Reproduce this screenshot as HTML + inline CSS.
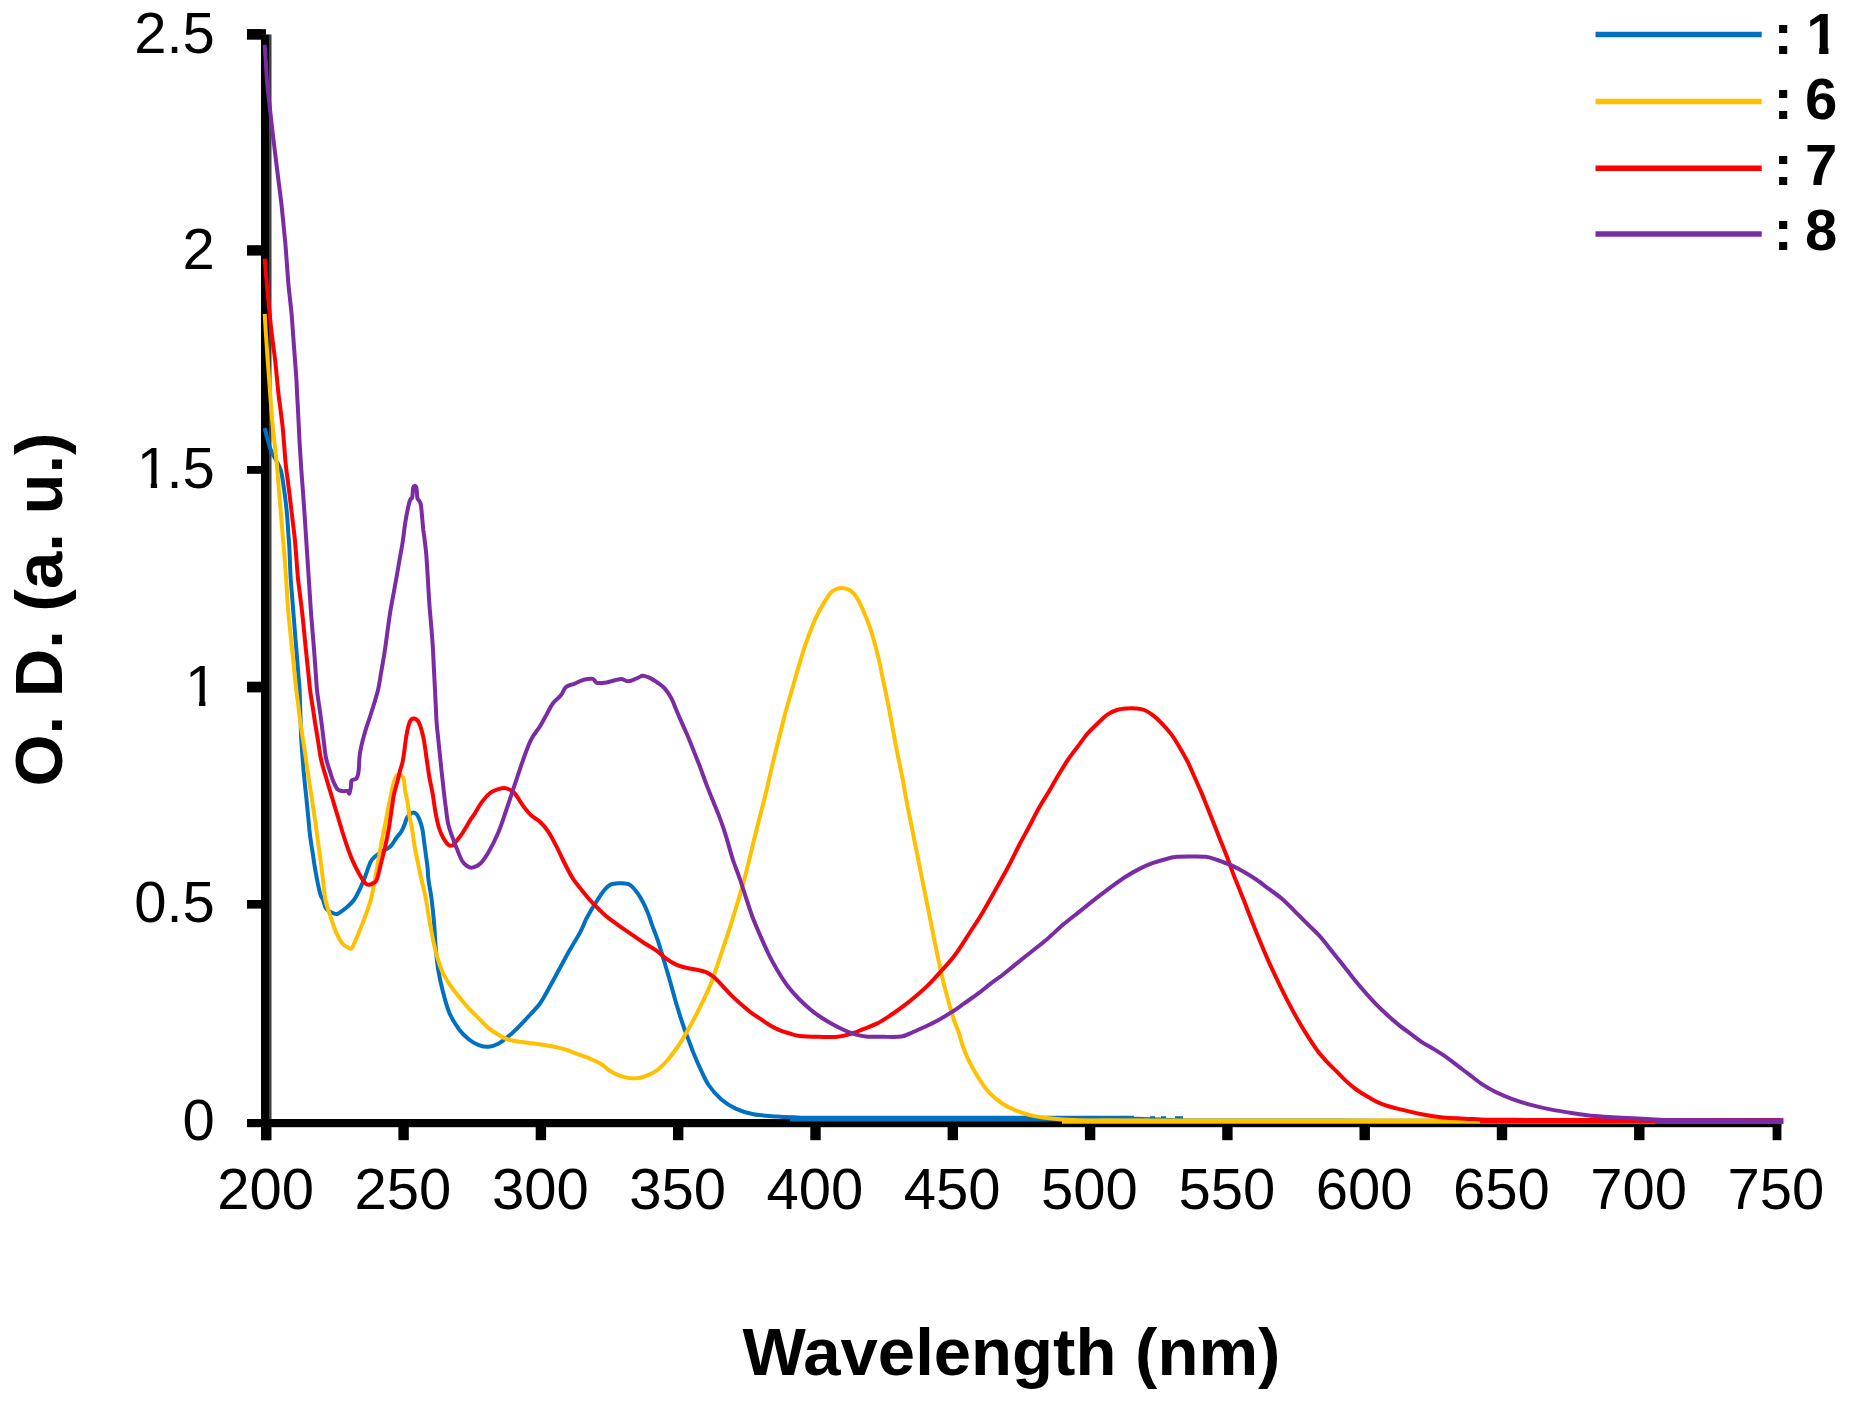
<!DOCTYPE html>
<html lang="en"><head><meta charset="utf-8"><title>UV-Vis absorption spectra</title>
<style>
html,body{margin:0;padding:0;background:#fff;}
body{width:1850px;height:1405px;overflow:hidden;}
svg{display:block;filter:blur(0.6px);}
text{font-family:"Liberation Sans",sans-serif;fill:#000;}
.tick{font-size:58px;}
.leg{font-size:58px;font-weight:bold;}
.ttl{font-size:66px;font-weight:bold;}
.crv{fill:none;stroke-linejoin:round;stroke-linecap:butt;}
</style></head><body>
<svg width="1850" height="1405" viewBox="0 0 1850 1405">
<rect x="0" y="0" width="1850" height="1405" fill="#fff"/>
<g fill="#000">
<rect x="261" y="34.5" width="8.6" height="1105.7"/>
<rect x="269.3" y="34.5" width="2.2" height="1085" fill="#3c3c3c"/>
<rect x="247" y="1119" width="1534.3" height="8.2"/>
<rect x="247" y="29.2" width="19" height="5.6"/>
<rect x="247" y="29.2" width="15" height="10.5"/>
<rect x="247" y="245.2" width="15" height="10.4"/>
<rect x="247" y="466.0" width="15" height="7.8"/>
<rect x="247" y="681.7" width="15" height="10.7"/>
<rect x="247" y="900.0" width="15" height="8.6"/>
<rect x="261.1" y="1123" width="10.4" height="17.2"/>
<rect x="398.4" y="1123" width="10.4" height="17.2"/>
<rect x="535.7" y="1123" width="10.4" height="17.2"/>
<rect x="673.0" y="1123" width="10.4" height="17.2"/>
<rect x="810.3" y="1123" width="10.4" height="17.2"/>
<rect x="947.6" y="1123" width="10.4" height="17.2"/>
<rect x="1084.9" y="1123" width="10.4" height="17.2"/>
<rect x="1222.2" y="1123" width="10.4" height="17.2"/>
<rect x="1359.5" y="1123" width="10.4" height="17.2"/>
<rect x="1496.8" y="1123" width="10.4" height="17.2"/>
<rect x="1634.1" y="1123" width="10.4" height="17.2"/>
<rect x="1772.6" y="1123" width="8.8" height="17.2"/>
</g>
<g class="crv" stroke-width="4.0">
<path d="M264.7 428.0C265.6 431.5 268.5 443.7 270.4 449.0C272.3 454.3 274.2 456.3 276.0 460.0C277.8 463.7 279.6 465.9 281.0 471.0C282.4 476.1 283.2 483.5 284.2 490.3C285.2 497.1 286.1 505.3 286.8 512.0C287.5 518.7 287.7 524.2 288.1 530.4C288.5 536.5 289.0 540.7 289.4 548.7C289.8 556.7 290.2 570.2 290.7 578.5C291.2 586.8 291.8 592.0 292.3 598.8C292.8 605.5 293.4 612.2 293.9 619.0C294.4 625.8 295.0 632.5 295.5 639.3C296.1 646.1 296.7 653.7 297.2 659.6C297.7 665.5 298.0 669.7 298.4 674.8C298.8 679.9 299.3 683.4 299.6 690.0C299.9 696.6 300.1 706.2 300.4 714.3C300.7 722.4 300.9 731.9 301.2 738.6C301.5 745.4 302.0 749.4 302.4 754.8C302.8 760.2 303.1 765.6 303.6 771.0C304.1 776.4 304.7 781.8 305.2 787.2C305.8 792.7 306.4 798.1 306.9 803.5C307.4 808.9 308.0 814.3 308.5 819.7C309.0 825.1 309.4 830.5 310.1 835.9C310.8 841.3 311.7 846.7 312.6 852.1C313.4 857.6 313.8 861.6 315.0 868.4C316.2 875.2 318.5 887.4 319.9 892.7C321.2 898.0 322.0 897.3 323.1 900.0C324.2 902.7 324.7 906.7 326.3 908.9C327.9 911.1 330.9 912.2 332.8 913.0C334.7 913.8 335.5 914.6 337.7 913.8C339.9 913.0 343.1 910.4 345.8 908.1C348.5 905.8 351.5 903.4 353.9 900.0C356.3 896.6 358.5 891.8 360.4 887.8C362.3 883.8 363.7 880.2 365.4 875.9C367.1 871.6 368.8 865.4 370.5 862.1C372.2 858.8 373.6 857.9 375.7 856.0C377.8 854.1 380.6 852.6 383.0 851.0C385.4 849.4 388.1 848.7 390.4 846.5C392.6 844.3 394.6 840.4 396.5 837.8C398.4 835.2 400.3 833.3 401.7 830.9C403.1 828.5 404.2 825.4 405.1 823.1C406.0 820.8 406.1 818.8 407.3 817.1C408.5 815.4 410.6 813.3 412.1 812.8C413.6 812.3 415.1 812.8 416.4 814.1C417.7 815.4 418.8 818.0 419.8 820.5C420.8 823.0 421.7 825.6 422.4 829.2C423.1 832.8 423.6 837.9 424.2 842.2C424.8 846.5 425.3 850.8 425.9 855.1C426.5 859.4 427.2 864.0 427.6 868.1C428.0 872.2 427.8 874.7 428.5 880.0C429.2 885.3 430.8 892.6 431.7 900.0C432.6 907.4 433.5 916.2 434.2 924.3C434.9 932.4 435.1 941.0 435.8 948.6C436.5 956.2 437.0 962.4 438.2 969.7C439.4 977.0 441.2 985.1 443.1 992.4C445.0 999.7 446.9 1007.3 449.6 1013.5C452.3 1019.7 456.1 1025.4 459.3 1029.7C462.5 1034.0 465.8 1036.9 469.0 1039.5C472.2 1042.1 475.6 1043.9 478.8 1045.1C482.1 1046.3 485.3 1047.0 488.5 1046.8C491.7 1046.6 494.9 1045.5 498.2 1043.8C501.4 1042.1 504.8 1039.5 508.0 1036.8C511.2 1034.1 513.9 1031.6 517.7 1027.8C521.5 1024.0 527.0 1018.0 530.7 1014.0C534.4 1010.0 536.8 1008.0 540.0 1003.5C543.2 999.0 546.5 992.6 549.7 986.8C553.0 981.0 556.2 974.8 559.5 968.8C562.8 962.8 565.8 957.0 569.2 951.0C572.6 945.0 577.1 938.0 580.0 932.6C582.9 927.2 584.5 922.3 586.5 918.4C588.5 914.5 589.8 912.5 591.7 909.3C593.7 906.0 596.1 902.1 598.2 898.9C600.4 895.6 602.6 892.2 604.6 889.8C606.6 887.4 608.1 885.7 610.5 884.6C612.9 883.5 615.9 883.4 618.9 883.3C621.9 883.2 626.1 883.3 628.6 884.2C631.1 885.1 632.2 886.8 633.8 888.5C635.4 890.2 637.0 892.3 638.4 894.4C639.8 896.5 641.1 898.8 642.3 900.9C643.5 903.0 644.4 904.9 645.5 907.3C646.6 909.7 647.6 912.2 648.7 915.1C649.8 918.0 650.9 921.9 652.0 924.9C653.1 927.9 654.0 930.1 655.2 933.3C656.4 936.5 657.5 939.2 659.1 944.3C660.7 949.4 663.1 957.8 664.9 963.8C666.7 969.8 668.1 974.3 669.7 980.0C671.3 985.7 673.0 992.1 674.6 997.8C676.2 1003.5 677.9 1009.0 679.5 1014.1C681.1 1019.2 682.7 1024.0 684.3 1028.6C685.9 1033.2 687.6 1037.3 689.2 1041.6C690.8 1045.9 692.2 1050.0 694.1 1054.6C696.0 1059.2 698.1 1064.1 700.5 1069.2C702.9 1074.3 705.2 1080.0 708.6 1085.0C712.0 1090.0 716.5 1095.2 721.1 1099.2C725.7 1103.2 730.8 1106.4 736.2 1108.9C741.6 1111.4 746.6 1113.0 753.5 1114.3C760.4 1115.6 770.6 1116.0 777.3 1116.5C784.0 1117.0 788.1 1117.1 793.5 1117.3C798.9 1117.6 802.1 1118.1 809.7 1118.2C817.3 1118.3 829.1 1118.2 838.8 1118.2C848.5 1118.2 858.2 1118.3 867.9 1118.3C877.6 1118.3 887.3 1118.3 897.1 1118.3C906.8 1118.3 916.5 1118.3 926.2 1118.3C935.9 1118.4 945.6 1118.4 955.3 1118.4C965.0 1118.4 974.7 1118.4 984.4 1118.4C994.1 1118.4 1003.8 1118.4 1013.5 1118.5C1023.2 1118.5 1032.9 1118.5 1042.6 1118.5C1052.4 1118.5 1062.1 1118.5 1071.8 1118.5C1081.5 1118.5 1091.2 1118.6 1100.9 1118.6C1110.6 1118.6 1121.8 1118.5 1130.0 1118.6C1138.2 1118.7 1143.3 1119.0 1150.0 1119.2C1156.7 1119.4 1163.3 1119.7 1170.0 1119.9C1176.7 1120.1 1181.7 1120.4 1190.0 1120.5C1198.3 1120.6 1209.8 1120.5 1219.7 1120.5C1229.5 1120.5 1239.4 1120.5 1249.3 1120.5C1259.2 1120.6 1269.1 1120.6 1279.0 1120.6C1288.8 1120.6 1298.7 1120.6 1308.6 1120.6C1318.5 1120.6 1328.4 1120.6 1338.2 1120.6C1348.1 1120.6 1358.0 1120.6 1367.9 1120.7C1377.8 1120.7 1387.7 1120.7 1397.5 1120.7C1407.4 1120.7 1417.3 1120.7 1427.2 1120.7C1437.1 1120.7 1447.0 1120.7 1456.8 1120.7C1466.7 1120.7 1476.6 1120.7 1486.5 1120.8C1496.4 1120.8 1506.3 1120.8 1516.2 1120.8C1526.0 1120.8 1535.9 1120.8 1545.8 1120.8C1555.7 1120.8 1565.6 1120.8 1575.5 1120.8C1585.3 1120.8 1595.2 1120.8 1605.1 1120.8C1615.0 1120.9 1624.9 1120.9 1634.8 1120.9C1644.6 1120.9 1654.5 1120.9 1664.4 1120.9C1674.3 1120.9 1684.2 1120.9 1694.0 1120.9C1703.9 1120.9 1713.8 1120.9 1723.7 1121.0C1733.6 1121.0 1743.5 1121.0 1753.3 1121.0C1763.2 1121.0 1778.1 1121.0 1783.0 1121.0" stroke="#0070C0"/>
<line x1="790.0" y1="1118.6" x2="1134.0" y2="1118.6" stroke="#0070C0" stroke-width="5.8"/>
<line x1="1150.0" y1="1117.6" x2="1155.0" y2="1117.6" stroke="#0070C0" stroke-width="2.8"/>
<line x1="1161.0" y1="1117.6" x2="1166.0" y2="1117.6" stroke="#0070C0" stroke-width="2.8"/>
<line x1="1175.0" y1="1117.6" x2="1183.0" y2="1117.6" stroke="#0070C0" stroke-width="2.8"/>
<path d="M264.7 313.8C264.9 317.1 265.5 327.0 265.9 333.6C266.4 340.3 266.8 347.5 267.2 353.5C267.6 359.5 268.0 364.3 268.4 369.7C268.8 375.1 269.2 380.5 269.6 385.9C270.0 391.3 270.4 396.7 270.8 402.1C271.2 407.6 271.4 411.6 272.0 418.4C272.6 425.2 273.7 434.9 274.5 442.7C275.3 450.5 276.2 457.2 276.9 465.0C277.6 472.8 278.2 481.2 278.9 489.3C279.6 497.4 280.2 505.5 280.9 513.6C281.6 521.7 282.3 529.8 282.9 538.0C283.6 546.1 284.4 554.2 285.0 562.3C285.6 570.4 286.1 578.5 286.6 586.6C287.1 594.7 287.6 603.5 288.2 610.9C288.8 618.3 289.6 624.4 290.2 631.2C290.9 638.0 291.6 644.9 292.3 651.5C293.0 658.1 293.6 664.3 294.3 670.8C295.0 677.2 295.6 684.1 296.3 690.0C297.0 695.9 297.7 700.8 298.4 706.2C299.0 711.6 299.6 717.0 300.4 722.4C301.1 727.8 302.0 733.2 302.9 738.6C303.7 744.1 304.5 749.5 305.3 754.9C306.1 760.3 306.9 765.7 307.7 771.1C308.5 776.5 309.3 781.9 310.1 787.3C310.9 792.7 311.7 798.1 312.6 803.5C313.4 808.9 314.2 814.3 315.0 819.7C315.8 825.1 316.5 830.5 317.2 836.0C318.0 841.4 318.5 844.9 319.5 852.2C320.5 859.5 322.0 872.0 323.0 880.0C324.0 888.0 324.3 894.0 325.5 900.0C326.7 906.0 328.6 910.8 330.4 916.2C332.2 921.6 334.1 927.8 336.1 932.4C338.1 937.0 340.6 941.3 342.6 943.8C344.6 946.3 346.5 946.7 348.0 947.5C349.5 948.3 350.5 949.1 351.5 948.5C352.5 947.9 352.8 946.7 354.0 944.0C355.2 941.3 356.9 937.0 358.8 932.4C360.7 927.8 363.2 922.1 365.3 916.2C367.4 910.3 369.6 905.0 371.5 897.0C373.4 889.0 375.5 876.5 377.0 868.1C378.5 859.7 379.4 853.7 380.7 846.5C382.0 839.3 383.6 832.1 385.0 824.9C386.4 817.7 388.0 809.5 389.3 803.2C390.6 796.9 391.7 791.1 392.6 787.0C393.6 782.9 394.1 780.6 395.0 778.5C395.9 776.4 396.9 775.0 398.0 774.5C399.1 774.0 400.5 774.7 401.5 775.5C402.5 776.3 403.2 777.0 403.8 779.5C404.4 782.0 404.5 786.3 405.1 790.3C405.8 794.2 407.0 798.9 407.7 803.2C408.4 807.5 408.8 811.9 409.5 816.2C410.2 820.5 411.2 824.2 412.1 829.2C413.0 834.2 413.8 841.5 414.6 846.5C415.5 851.5 416.3 855.2 417.2 859.5C418.1 863.8 419.1 869.0 419.8 872.4C420.5 875.8 420.6 875.4 421.6 880.0C422.7 884.6 424.7 892.6 426.1 900.0C427.5 907.4 428.6 916.2 430.1 924.3C431.6 932.4 433.1 941.0 435.0 948.6C436.9 956.2 439.1 963.8 441.5 969.7C443.9 975.7 446.6 979.7 449.6 984.3C452.6 988.9 456.1 993.2 459.3 997.3C462.5 1001.3 465.8 1005.1 469.0 1008.6C472.2 1012.1 475.6 1015.1 478.8 1018.4C482.1 1021.6 485.3 1025.4 488.5 1028.1C491.7 1030.8 494.9 1032.7 498.2 1034.6C501.4 1036.5 504.2 1038.3 508.0 1039.5C511.8 1040.7 516.6 1041.2 520.9 1041.9C525.2 1042.6 528.5 1042.7 533.9 1043.5C539.2 1044.3 547.7 1045.5 553.0 1046.5C558.3 1047.5 561.6 1048.4 565.9 1049.7C570.2 1051.0 574.6 1053.0 578.9 1054.6C583.2 1056.2 588.1 1057.9 591.9 1059.5C595.7 1061.1 598.6 1062.4 601.6 1064.3C604.6 1066.2 606.7 1068.9 609.7 1070.8C612.7 1072.7 616.2 1074.5 619.5 1075.7C622.8 1076.9 626.0 1077.7 629.2 1078.1C632.4 1078.5 635.7 1078.6 638.9 1078.1C642.1 1077.6 645.4 1076.4 648.6 1074.9C651.9 1073.4 655.1 1071.8 658.4 1069.2C661.6 1066.6 664.9 1063.3 668.1 1059.5C671.3 1055.7 674.8 1050.8 677.8 1046.5C680.8 1042.2 683.2 1038.1 685.9 1033.5C688.6 1028.9 691.4 1024.0 694.1 1018.9C696.8 1013.8 699.5 1008.4 702.2 1002.7C704.9 997.0 707.9 990.9 710.3 984.9C712.7 978.9 714.6 973.2 716.8 967.0C718.9 960.8 721.1 954.1 723.2 947.6C725.4 941.1 727.5 934.9 729.7 928.1C731.9 921.3 734.3 913.2 736.2 907.0C738.1 900.8 739.6 895.9 741.1 890.8C742.6 885.7 743.8 881.3 745.1 876.2C746.5 871.1 747.7 866.1 749.2 860.0C750.7 853.9 752.3 846.8 754.1 839.5C755.9 832.2 758.0 823.8 760.0 816.0C762.0 808.2 763.8 801.6 765.9 793.0C768.0 784.4 770.2 773.7 772.4 764.6C774.6 755.5 776.7 747.2 778.9 738.6C781.1 730.0 783.2 720.8 785.4 712.7C787.6 704.6 789.7 697.6 791.9 690.0C794.1 682.4 796.2 674.6 798.4 667.3C800.6 660.0 802.7 652.7 804.9 646.2C807.1 639.7 809.2 633.8 811.4 628.4C813.5 623.0 815.6 618.1 817.8 613.8C819.9 609.5 822.1 605.9 824.3 602.4C826.5 598.9 828.6 595.0 830.8 592.7C833.0 590.4 835.1 589.4 837.3 588.6C839.5 587.9 841.6 587.9 843.8 588.2C846.0 588.5 848.1 588.7 850.3 590.3C852.5 591.9 854.6 594.2 856.8 597.6C858.9 601.0 861.1 605.6 863.2 610.5C865.4 615.4 867.8 621.4 869.7 626.8C871.6 632.2 873.0 637.1 874.6 643.0C876.2 648.9 878.0 655.9 879.5 662.4C881.0 668.9 882.1 675.4 883.5 681.9C884.9 688.4 886.2 694.6 887.6 701.4C889.0 708.1 890.2 715.1 891.6 722.4C893.0 729.7 894.4 738.1 895.7 745.1C897.1 752.1 898.5 758.7 899.7 764.6C900.9 770.5 902.0 775.7 903.0 780.8C904.0 785.9 904.1 788.1 905.4 795.0C906.7 801.9 909.4 815.1 910.8 822.4C912.2 829.7 913.0 833.2 914.0 838.6C915.1 844.1 916.2 849.5 917.3 854.9C918.4 860.3 919.5 865.7 920.5 871.1C921.6 876.5 922.7 881.9 923.8 887.3C924.9 892.7 926.0 898.1 927.0 903.5C928.1 908.9 929.2 914.3 930.3 919.7C931.4 925.1 932.5 930.5 933.5 936.0C934.6 941.4 935.2 944.6 936.8 952.2C938.4 959.8 941.1 972.5 943.2 981.4C945.4 990.3 947.9 999.3 949.7 1005.7C951.5 1012.1 952.5 1015.5 954.0 1020.0C955.5 1024.5 957.4 1028.5 958.9 1033.0C960.4 1037.5 961.4 1042.4 963.2 1047.3C965.0 1052.2 967.2 1057.4 969.7 1062.4C972.2 1067.5 975.1 1072.5 978.4 1077.6C981.6 1082.6 985.2 1088.4 989.2 1092.7C993.2 1097.0 997.5 1100.4 1002.2 1103.5C1006.9 1106.6 1011.9 1109.0 1017.3 1111.1C1022.7 1113.2 1028.8 1114.8 1034.6 1116.1C1040.4 1117.3 1044.3 1117.9 1051.9 1118.6C1059.5 1119.3 1071.3 1120.2 1080.0 1120.5C1088.7 1120.8 1096.0 1120.6 1104.0 1120.6C1112.0 1120.7 1120.0 1120.7 1128.0 1120.7C1136.0 1120.8 1144.0 1120.8 1152.0 1120.9C1160.0 1120.9 1168.0 1120.9 1176.0 1121.0C1184.0 1121.0 1191.1 1121.1 1200.0 1121.1C1208.9 1121.1 1219.4 1121.1 1229.2 1121.1C1238.9 1121.1 1248.6 1121.1 1258.3 1121.1C1268.0 1121.1 1277.7 1121.1 1287.5 1121.1C1297.2 1121.1 1306.9 1121.1 1316.6 1121.1C1326.3 1121.1 1336.0 1121.1 1345.8 1121.1C1355.5 1121.1 1365.2 1121.1 1374.9 1121.1C1384.6 1121.1 1394.3 1121.1 1404.0 1121.1C1413.8 1121.1 1423.5 1121.1 1433.2 1121.1C1442.9 1121.1 1452.6 1121.1 1462.3 1121.1C1472.1 1121.1 1481.8 1121.1 1491.5 1121.2C1501.2 1121.2 1510.9 1121.2 1520.7 1121.2C1530.4 1121.2 1540.1 1121.2 1549.8 1121.2C1559.5 1121.2 1569.2 1121.2 1579.0 1121.2C1588.7 1121.2 1598.4 1121.2 1608.1 1121.2C1617.8 1121.2 1627.5 1121.2 1637.2 1121.2C1647.0 1121.2 1656.7 1121.2 1666.4 1121.2C1676.1 1121.2 1685.8 1121.2 1695.5 1121.2C1705.3 1121.2 1715.0 1121.2 1724.7 1121.2C1734.4 1121.2 1744.1 1121.2 1753.8 1121.2C1763.6 1121.2 1778.1 1121.2 1783.0 1121.2" stroke="#FFC000"/>
<line x1="1062.0" y1="1121.1" x2="1783.0" y2="1121.1" stroke="#FFC000" stroke-width="5.4"/>
<path d="M264.7 258.6C264.9 261.1 265.5 268.6 265.9 273.6C266.4 278.6 266.7 282.7 267.2 288.6C267.7 294.5 268.5 302.1 269.2 308.9C269.9 315.7 270.5 323.1 271.2 329.2C271.9 335.3 272.6 340.0 273.2 345.4C273.9 350.8 274.7 356.2 275.3 361.6C275.9 367.0 276.4 372.4 276.9 377.8C277.4 383.2 277.9 388.6 278.5 394.0C279.1 399.4 279.9 404.8 280.6 410.2C281.2 415.7 282.0 420.6 282.6 426.5C283.2 432.4 283.7 439.3 284.2 445.8C284.7 452.2 285.2 459.1 285.8 465.0C286.4 470.9 287.2 475.8 287.9 481.2C288.5 486.6 289.2 491.3 289.9 497.4C290.6 503.5 291.5 510.9 292.3 517.7C293.1 524.5 294.0 531.2 294.7 538.0C295.4 544.8 295.8 551.5 296.4 558.2C296.9 565.0 297.4 572.4 298.0 578.5C298.6 584.6 299.3 589.3 300.0 594.7C300.7 600.1 301.3 604.8 302.0 610.9C302.7 617.0 303.4 624.4 304.1 631.2C304.7 638.0 305.4 644.9 306.1 651.5C306.8 658.1 307.4 664.3 308.1 670.8C308.8 677.2 309.4 684.1 310.1 690.0C310.8 695.9 311.7 700.8 312.6 706.2C313.4 711.6 314.1 716.6 315.0 722.4C315.9 728.2 317.1 734.9 318.1 741.2C319.1 747.5 319.7 753.3 321.2 760.0C322.7 766.7 325.4 775.1 327.3 781.6C329.2 788.1 330.8 793.1 332.5 798.9C334.2 804.7 336.0 810.4 337.7 816.2C339.4 822.0 341.2 828.0 342.9 833.5C344.6 839.0 346.4 844.3 348.1 849.1C349.8 853.9 351.5 858.2 353.2 862.1C354.9 866.0 356.8 869.4 358.4 872.4C360.0 875.4 361.5 878.1 362.8 880.0C364.1 881.9 364.9 883.0 366.0 883.8C367.1 884.6 368.3 884.9 369.5 884.8C370.7 884.7 372.2 883.8 373.4 883.0C374.6 882.2 375.4 883.2 376.6 880.0C377.9 876.8 379.5 869.4 380.9 863.8C382.3 858.2 383.9 852.3 385.2 846.5C386.5 840.7 387.7 835.0 388.7 829.2C389.7 823.4 390.4 817.7 391.3 811.9C392.2 806.1 392.9 799.6 393.9 794.6C394.9 789.6 396.4 785.5 397.4 781.6C398.4 777.7 399.0 774.8 399.9 771.2C400.8 767.6 401.9 766.0 403.0 760.0C404.1 754.0 405.4 741.4 406.5 735.0C407.6 728.6 408.7 724.4 409.9 721.6C411.1 718.8 412.4 718.3 413.9 718.4C415.4 718.5 417.2 719.0 418.8 722.4C420.4 725.8 422.3 732.3 423.6 738.6C424.9 744.9 425.8 753.5 426.8 760.0C427.8 766.5 428.4 771.5 429.4 777.3C430.4 783.1 431.8 788.8 432.8 794.6C433.8 800.4 434.4 806.4 435.4 811.9C436.4 817.4 437.6 823.2 438.9 827.5C440.2 831.8 441.6 834.9 443.2 837.8C444.8 840.7 446.8 843.6 448.4 844.8C450.0 846.0 451.3 845.9 452.7 845.2C454.1 844.5 455.4 842.4 457.0 840.4C458.6 838.4 460.0 836.8 462.2 833.5C464.4 830.2 468.1 823.6 470.0 820.5C471.9 817.4 471.9 818.0 473.9 814.9C475.9 811.8 479.3 805.5 482.0 801.9C484.7 798.2 487.4 795.1 490.1 793.0C492.8 790.9 495.6 790.0 498.2 789.2C500.8 788.4 502.8 787.5 505.5 788.1C508.2 788.7 511.5 790.2 514.4 793.0C517.2 795.8 519.9 801.5 522.6 805.1C525.3 808.8 527.8 812.1 530.7 814.9C533.6 817.7 537.3 819.2 540.2 822.0C543.1 824.8 545.4 827.4 548.1 831.4C550.8 835.4 553.6 841.0 556.2 845.9C558.8 850.8 560.8 855.7 563.5 861.0C566.2 866.3 569.3 872.8 572.4 877.8C575.5 882.8 579.0 886.7 582.2 890.8C585.5 894.9 588.1 898.2 591.9 902.2C595.7 906.2 600.6 911.3 604.9 915.1C609.2 918.9 613.5 921.8 617.8 924.9C622.1 928.0 626.5 930.8 630.8 933.8C635.1 936.8 639.5 939.9 643.8 942.7C648.1 945.5 653.0 948.1 656.8 950.8C660.6 953.5 663.3 956.6 666.5 958.9C669.7 961.2 673.0 963.1 676.2 964.6C679.4 966.1 682.6 967.0 685.9 967.8C689.1 968.6 692.5 968.8 695.7 969.5C699.0 970.2 702.4 970.7 705.4 971.9C708.4 973.1 710.8 974.6 713.5 976.8C716.2 979.0 718.6 981.8 721.6 984.9C724.6 988.0 728.1 992.2 731.4 995.4C734.6 998.6 737.9 1001.5 741.1 1004.3C744.3 1007.1 747.6 1010.0 750.8 1012.4C754.0 1014.8 757.2 1016.7 760.5 1018.9C763.8 1021.1 767.0 1023.5 770.3 1025.4C773.5 1027.3 776.8 1029.0 780.0 1030.3C783.2 1031.6 786.5 1032.6 789.7 1033.5C793.0 1034.4 794.7 1035.4 799.5 1035.9C804.3 1036.5 812.0 1036.7 818.4 1036.8C824.8 1036.9 832.4 1037.3 837.8 1036.8C843.2 1036.3 846.5 1035.2 850.8 1033.9C855.1 1032.6 859.5 1030.5 863.8 1028.8C868.1 1027.1 872.5 1025.8 876.8 1023.6C881.1 1021.4 885.4 1018.6 889.7 1015.8C894.0 1013.0 898.4 1010.0 902.7 1006.7C907.0 1003.5 911.4 1000.0 915.7 996.3C920.0 992.6 924.3 988.9 928.6 984.6C932.9 980.3 937.2 975.4 941.6 970.5C946.0 965.6 950.4 961.2 955.0 955.0C959.6 948.8 964.7 940.5 969.2 933.5C973.7 926.5 977.9 920.4 982.2 913.2C986.5 906.0 990.8 898.2 995.1 890.5C999.4 882.8 1004.0 874.7 1008.1 867.0C1012.2 859.3 1016.0 851.2 1019.5 844.5C1023.0 837.8 1026.0 832.6 1029.2 826.5C1032.4 820.4 1035.7 813.8 1038.9 808.0C1042.1 802.2 1045.3 797.5 1048.6 792.0C1051.8 786.5 1055.2 780.4 1058.4 775.0C1061.7 769.6 1064.9 764.2 1068.1 759.5C1071.3 754.8 1074.5 750.8 1077.8 746.5C1081.0 742.2 1084.3 737.3 1087.6 733.5C1090.8 729.7 1094.1 726.9 1097.3 723.8C1100.5 720.7 1103.8 717.2 1107.0 714.9C1110.2 712.6 1113.5 711.1 1116.8 710.0C1120.0 708.9 1123.3 708.7 1126.5 708.4C1129.7 708.1 1133.2 708.1 1136.2 708.4C1139.2 708.7 1141.6 708.9 1144.3 710.0C1147.0 711.1 1149.4 712.6 1152.4 714.9C1155.4 717.2 1159.0 720.4 1162.2 723.8C1165.5 727.2 1168.9 731.0 1171.9 735.1C1174.9 739.2 1177.3 743.5 1180.0 748.1C1182.7 752.7 1185.7 757.8 1188.1 762.7C1190.5 767.6 1192.4 772.4 1194.6 777.3C1196.8 782.2 1198.9 786.8 1201.1 791.9C1203.3 797.0 1205.4 802.7 1207.6 808.1C1209.8 813.5 1211.9 818.9 1214.1 824.3C1216.2 829.7 1218.3 835.1 1220.5 840.5C1222.7 845.9 1224.8 851.1 1227.0 856.8C1229.2 862.5 1231.3 868.9 1233.5 874.6C1235.7 880.3 1238.0 885.7 1240.0 890.8C1242.0 895.9 1244.2 901.1 1245.7 905.0C1247.2 908.9 1247.0 908.7 1249.2 914.3C1251.4 919.9 1255.7 930.8 1258.9 938.6C1262.1 946.5 1265.3 954.1 1268.6 961.4C1271.8 968.7 1275.2 975.6 1278.4 982.4C1281.7 989.1 1284.9 995.7 1288.1 1001.9C1291.3 1008.1 1294.5 1014.0 1297.8 1019.7C1301.0 1025.4 1304.3 1030.8 1307.6 1035.9C1310.8 1041.0 1314.1 1046.2 1317.3 1050.5C1320.5 1054.8 1323.8 1058.4 1327.0 1061.9C1330.2 1065.4 1333.5 1068.3 1336.8 1071.6C1340.0 1074.8 1343.3 1078.4 1346.5 1081.4C1349.7 1084.4 1352.4 1086.8 1356.2 1089.5C1360.0 1092.2 1364.9 1095.2 1369.2 1097.6C1373.5 1100.0 1377.3 1102.2 1382.2 1104.1C1387.1 1106.0 1391.8 1107.2 1398.4 1108.9C1405.0 1110.6 1414.1 1112.8 1421.6 1114.3C1429.1 1115.8 1436.0 1116.9 1443.2 1117.6C1450.4 1118.3 1457.6 1118.3 1464.8 1118.7C1472.1 1119.0 1478.6 1119.5 1486.5 1119.7C1494.4 1119.9 1503.6 1119.8 1512.1 1119.8C1520.6 1119.9 1529.1 1119.9 1537.7 1120.0C1546.2 1120.0 1554.7 1120.1 1563.2 1120.1C1571.8 1120.1 1580.3 1120.2 1588.8 1120.2C1597.4 1120.3 1605.9 1120.3 1614.4 1120.4C1622.9 1120.4 1631.0 1120.5 1640.0 1120.5C1649.0 1120.5 1659.1 1120.6 1668.6 1120.6C1678.1 1120.6 1687.7 1120.7 1697.2 1120.7C1706.7 1120.7 1716.3 1120.8 1725.8 1120.8C1735.3 1120.8 1744.9 1120.9 1754.4 1120.9C1763.9 1120.9 1778.2 1121.0 1783.0 1121.0" stroke="#FF0000"/>
<line x1="1480.0" y1="1120.7" x2="1783.0" y2="1120.7" stroke="#FF0000" stroke-width="5.4"/>
<path d="M264.7 44.9C264.9 48.2 265.6 58.2 266.0 64.9C266.4 71.6 266.7 78.3 267.3 84.9C267.9 91.5 268.7 97.9 269.5 104.3C270.2 110.8 270.9 117.5 271.6 123.8C272.3 130.1 273.1 136.0 273.8 142.2C274.5 148.3 275.2 153.8 276.0 160.5C276.8 167.2 277.8 174.9 278.7 182.2C279.6 189.4 280.6 196.9 281.4 203.8C282.2 210.7 282.7 216.9 283.4 223.4C284.0 229.9 284.7 236.2 285.3 243.0C285.9 249.8 286.4 257.0 286.9 264.0C287.4 271.0 288.0 279.0 288.5 285.0C289.0 291.0 289.6 295.0 290.1 300.0C290.6 305.0 291.2 310.0 291.7 315.0C292.1 320.0 292.4 325.1 292.8 330.2C293.2 335.3 293.5 340.2 293.9 345.4C294.3 350.6 294.7 356.2 295.1 361.6C295.5 367.0 296.0 372.4 296.3 377.8C296.6 383.2 296.9 388.6 297.1 394.1C297.4 399.5 297.7 404.9 298.0 410.3C298.3 415.7 298.5 421.1 298.8 426.5C299.1 431.9 299.2 436.3 299.6 442.7C300.0 449.1 300.5 457.2 301.0 465.0C301.5 472.8 302.2 481.2 302.8 489.3C303.3 497.4 303.9 505.5 304.5 513.6C305.1 521.7 305.6 529.8 306.1 538.0C306.6 546.1 307.2 554.2 307.7 562.3C308.2 570.4 308.8 578.5 309.3 586.6C309.8 594.7 310.4 603.5 310.9 610.9C311.4 618.3 312.0 624.4 312.5 631.2C313.1 638.0 313.7 644.9 314.2 651.5C314.7 658.1 315.1 664.3 315.6 670.8C316.1 677.2 316.4 684.1 317.0 690.0C317.6 695.9 318.5 700.8 319.2 706.2C320.0 711.6 320.8 716.8 321.5 722.4C322.2 728.0 322.9 733.9 323.6 739.7C324.4 745.5 324.8 751.8 325.8 757.0C326.8 762.2 328.6 767.1 329.9 771.2C331.2 775.3 332.1 778.6 333.4 781.6C334.7 784.6 336.1 787.8 337.7 789.4C339.3 791.0 341.3 790.8 342.9 791.1C344.5 791.4 346.4 790.6 347.5 791.0C348.6 791.4 348.8 794.3 349.4 793.5C350.0 792.7 350.6 788.2 351.0 786.0C351.4 783.8 350.7 781.8 351.6 780.5C352.5 779.2 355.4 779.9 356.5 778.5C357.6 777.1 358.0 775.1 358.5 772.0C359.0 768.9 359.0 763.7 359.3 760.0C359.6 756.3 359.6 754.4 360.5 750.0C361.4 745.6 362.6 740.3 364.5 733.8C366.4 727.3 369.6 718.3 371.8 711.0C374.1 703.7 376.4 696.7 378.0 690.0C379.6 683.3 380.2 677.2 381.4 670.8C382.5 664.3 383.7 658.1 384.7 651.5C385.7 644.9 386.6 638.0 387.5 631.2C388.5 624.4 389.4 617.0 390.4 610.9C391.4 604.8 392.4 600.1 393.4 594.7C394.3 589.3 395.2 584.5 396.3 578.5C397.4 572.5 398.7 564.5 399.8 558.4C400.9 552.3 401.8 547.8 402.7 541.7C403.6 535.6 404.5 527.6 405.4 521.9C406.3 516.1 407.4 510.9 408.2 507.2C409.0 503.5 409.6 501.1 410.3 499.5C411.0 497.9 411.7 499.6 412.2 497.5C412.7 495.4 412.7 488.8 413.4 487.0C414.1 485.2 415.5 485.2 416.2 487.0C416.9 488.8 416.9 495.8 417.4 498.0C417.9 500.2 418.4 499.4 419.0 500.5C419.6 501.6 420.3 502.1 420.8 504.5C421.3 506.9 421.5 510.6 421.9 514.8C422.3 519.0 422.9 525.8 423.3 529.9C423.8 534.0 424.1 535.1 424.6 539.5C425.1 543.9 425.9 549.4 426.4 556.0C426.9 562.6 427.4 571.6 427.9 579.4C428.3 587.2 428.8 595.5 429.3 602.8C429.8 610.1 430.4 616.3 431.0 623.1C431.5 629.9 432.1 636.1 432.6 643.4C433.1 650.7 433.4 658.9 433.8 666.7C434.2 674.5 434.7 683.4 435.0 690.0C435.3 696.6 435.5 700.8 435.8 706.2C436.1 711.6 436.2 717.0 436.6 722.4C437.0 727.8 437.7 733.2 438.2 738.6C438.8 744.1 439.3 749.6 439.9 754.9C440.4 760.2 441.0 765.2 441.5 770.4C442.1 775.6 442.5 779.7 443.2 785.9C443.9 792.1 444.9 801.1 445.8 807.6C446.7 814.1 447.2 819.9 448.4 824.9C449.5 829.9 451.3 833.8 452.7 837.8C454.1 841.8 455.4 845.2 457.0 849.1C458.6 853.0 460.5 858.2 462.2 861.0C463.9 863.8 465.3 864.9 467.0 866.0C468.7 867.1 470.1 868.0 472.3 867.6C474.5 867.2 477.7 866.1 480.4 863.5C483.1 860.9 485.5 857.3 488.5 852.2C491.5 847.1 495.2 839.7 498.2 832.7C501.2 825.7 503.6 817.8 506.3 810.0C509.0 802.2 511.7 793.8 514.4 785.7C517.1 777.6 519.9 768.9 522.6 761.3C525.3 753.7 527.8 746.2 530.7 740.3C533.6 734.4 537.6 730.3 540.2 726.0C542.8 721.7 544.4 718.4 546.5 714.6C548.6 710.8 550.6 706.5 553.0 703.2C555.4 700.0 559.0 697.8 561.1 695.1C563.2 692.4 563.7 688.9 565.9 687.0C568.1 685.1 571.1 685.0 574.1 683.8C577.1 682.6 580.7 680.5 583.8 679.7C586.9 678.9 590.5 678.4 592.7 678.9C594.9 679.4 594.8 682.1 596.8 682.8C598.8 683.4 602.5 683.0 604.9 682.8C607.3 682.5 608.6 681.9 611.3 681.3C614.0 680.6 618.2 678.9 621.1 678.9C624.0 678.9 625.7 681.4 628.4 681.3C631.1 681.2 634.9 679.0 637.3 678.1C639.7 677.2 640.8 675.7 643.0 675.7C645.2 675.7 648.0 677.0 650.3 678.1C652.6 679.2 654.4 680.5 656.8 682.2C659.2 684.0 662.5 685.9 664.9 688.6C667.3 691.3 669.5 694.9 671.4 698.4C673.3 701.9 674.6 705.9 676.2 709.7C677.8 713.5 679.2 716.8 681.1 721.1C683.0 725.4 685.4 730.6 687.6 735.7C689.8 740.8 692.0 746.5 694.1 751.9C696.2 757.3 698.4 762.4 700.5 768.1C702.6 773.8 704.8 780.2 707.0 785.9C709.2 791.6 711.3 796.8 713.5 802.2C715.7 807.6 717.8 812.5 720.0 818.4C722.2 824.3 724.4 830.9 726.5 837.8C728.6 844.6 730.6 852.8 732.8 859.5C735.0 866.2 737.3 871.5 739.5 877.8C741.7 884.1 743.8 890.8 745.9 897.3C748.0 903.8 750.0 910.3 752.4 916.8C754.8 923.3 757.8 930.0 760.5 936.2C763.2 942.4 765.8 948.4 768.6 954.1C771.4 959.8 774.3 965.1 777.5 970.5C780.7 975.9 784.4 981.8 788.0 986.5C791.6 991.2 795.2 995.1 799.0 999.0C802.8 1002.9 807.2 1006.8 811.0 1010.0C814.8 1013.2 818.3 1015.6 822.0 1018.0C825.7 1020.4 829.2 1022.4 833.0 1024.5C836.8 1026.6 841.2 1028.8 845.0 1030.5C848.8 1032.2 852.5 1033.5 856.0 1034.5C859.5 1035.5 861.5 1036.1 866.0 1036.5C870.5 1036.9 877.3 1036.8 883.2 1036.8C889.1 1036.8 896.4 1037.3 901.4 1036.5C906.4 1035.7 909.0 1033.7 913.1 1032.0C917.2 1030.3 921.8 1028.2 926.1 1026.2C930.4 1024.2 934.7 1022.1 939.0 1019.7C943.3 1017.3 947.7 1014.7 952.0 1011.9C956.3 1009.1 960.7 1005.8 965.0 1002.8C969.3 999.8 973.7 996.9 978.0 993.7C982.3 990.5 987.2 986.2 990.9 983.4C994.6 980.6 996.0 979.9 1000.0 976.9C1004.0 973.9 1009.5 969.2 1014.6 965.1C1019.7 961.0 1025.4 956.5 1030.8 952.2C1036.2 947.9 1041.6 943.8 1047.0 939.2C1052.4 934.6 1057.8 929.2 1063.2 924.6C1068.6 920.0 1074.1 915.9 1079.5 911.6C1084.9 907.3 1090.3 902.8 1095.7 898.6C1101.1 894.4 1106.8 890.0 1111.9 886.3C1117.0 882.6 1121.9 879.1 1126.5 876.2C1131.1 873.3 1135.2 871.1 1139.5 868.9C1143.8 866.7 1148.1 864.8 1152.4 863.2C1156.7 861.6 1161.3 860.3 1165.4 859.2C1169.5 858.1 1172.5 857.3 1176.8 856.8C1181.1 856.3 1186.6 856.4 1191.4 856.4C1196.2 856.4 1201.6 856.2 1205.9 856.8C1210.2 857.4 1213.2 858.6 1217.3 860.0C1221.4 861.4 1226.0 863.0 1230.3 864.9C1234.6 866.8 1238.9 869.0 1243.2 871.4C1247.5 873.8 1251.9 876.5 1256.2 879.5C1260.5 882.5 1264.9 886.0 1269.2 889.2C1273.5 892.4 1278.0 895.2 1282.2 898.9C1286.4 902.5 1290.4 906.9 1294.6 911.1C1298.8 915.3 1303.3 919.8 1307.6 924.1C1311.9 928.4 1316.2 932.1 1320.5 937.0C1324.8 941.9 1329.2 947.8 1333.5 953.2C1337.8 958.6 1342.2 964.1 1346.5 969.5C1350.8 974.9 1355.2 980.6 1359.5 985.7C1363.8 990.8 1368.1 995.7 1372.4 1000.3C1376.7 1004.9 1381.1 1009.2 1385.4 1013.2C1389.7 1017.2 1394.1 1021.1 1398.4 1024.6C1402.7 1028.1 1407.6 1031.5 1411.4 1034.3C1415.2 1037.1 1417.9 1039.4 1421.1 1041.6C1424.3 1043.8 1427.0 1045.0 1430.8 1047.3C1434.6 1049.6 1439.5 1052.4 1443.8 1055.4C1448.1 1058.4 1452.5 1061.8 1456.8 1065.1C1461.1 1068.3 1465.4 1071.7 1469.7 1074.9C1474.0 1078.2 1478.4 1081.8 1482.7 1084.6C1487.0 1087.4 1490.8 1089.6 1495.7 1092.0C1500.7 1094.4 1506.7 1097.1 1512.4 1099.2C1518.1 1101.3 1523.2 1102.9 1529.7 1104.6C1536.2 1106.3 1544.2 1108.2 1551.4 1109.6C1558.6 1111.0 1565.8 1112.1 1573.0 1113.2C1580.2 1114.3 1587.4 1115.4 1594.6 1116.1C1601.8 1116.8 1609.0 1117.2 1616.2 1117.6C1623.4 1118.0 1630.6 1118.2 1637.8 1118.6C1645.0 1118.9 1652.5 1119.4 1659.5 1119.7C1666.5 1120.0 1673.0 1120.0 1679.8 1120.2C1686.5 1120.3 1692.0 1120.5 1700.0 1120.6C1708.0 1120.7 1718.4 1120.7 1727.7 1120.7C1736.9 1120.8 1746.1 1120.8 1755.3 1120.9C1764.6 1120.9 1778.4 1121.0 1783.0 1121.0" stroke="#7B2BA3"/>
<line x1="1655.0" y1="1121.1" x2="1783.5" y2="1121.1" stroke="#7B2BA3" stroke-width="5.8"/>
</g>
<defs><clipPath id="c1_487"><rect x="134.8" y="429.8" width="58.0" height="52.7"/><rect x="150.8" y="482.3" width="6.3" height="7.3"/></clipPath><clipPath id="c1_705"><rect x="183.1" y="647.8" width="58.0" height="52.7"/><rect x="199.1" y="700.3" width="6.3" height="7.3"/></clipPath><clipPath id="c1_leg"><rect x="1804.3" y="-4.3" width="58.0" height="51.1"/><rect x="1819.2" y="46.6" width="9.2" height="8.9"/></clipPath></defs>
<g class="tick">
<text x="214.8" y="53.2" text-anchor="end">2.5</text>
<text x="214.8" y="269.0" text-anchor="end">2</text>
<text x="136.8" y="487.8" clip-path="url(#c1_487)">1</text>
<text x="214.8" y="487.8" text-anchor="end">.5</text>
<text x="185.1" y="705.8" clip-path="url(#c1_705)">1</text>
<text x="214.8" y="921.8" text-anchor="end">0.5</text>
<text x="214.8" y="1140.0" text-anchor="end">0</text>
</g>
<g class="tick" text-anchor="middle">
<text x="265.7" y="1209.2">200</text>
<text x="403.0" y="1209.2">250</text>
<text x="540.3" y="1209.2">300</text>
<text x="677.6" y="1209.2">350</text>
<text x="814.9" y="1209.2">400</text>
<text x="952.2" y="1209.2">450</text>
<text x="1089.5" y="1209.2">500</text>
<text x="1226.8" y="1209.2">550</text>
<text x="1364.1" y="1209.2">600</text>
<text x="1501.4" y="1209.2">650</text>
<text x="1638.7" y="1209.2">700</text>
<text x="1776.0" y="1209.2">750</text>
</g>
<g fill="none">
<line x1="1595.5" y1="34.5" x2="1761.7" y2="34.5" stroke="#0070C0" stroke-width="5.4"/>
<line x1="1595.5" y1="101.5" x2="1761.7" y2="101.5" stroke="#FFC000" stroke-width="5.4"/>
<line x1="1595.5" y1="168.2" x2="1761.7" y2="168.2" stroke="#FF0000" stroke-width="5.4"/>
<line x1="1595.5" y1="234.0" x2="1761.7" y2="234.0" stroke="#7B2BA3" stroke-width="5.4"/>
</g>
<g class="leg">
<text x="1773.6" y="53.7">:</text>
<text x="1806.3" y="53.7" clip-path="url(#c1_leg)">1</text>
<text x="1773.6" y="119.2">:</text>
<text x="1805" y="119.2">6</text>
<text x="1773.6" y="184.8">:</text>
<text x="1805" y="184.8">7</text>
<text x="1773.6" y="250.4">:</text>
<text x="1805" y="250.4">8</text>
</g>
<text class="ttl" x="1011.4" y="1375" text-anchor="middle" textLength="538" lengthAdjust="spacingAndGlyphs">Wavelength (nm)</text>
<text class="ttl" transform="translate(62.3 609.6) rotate(-90)" text-anchor="middle" textLength="354" lengthAdjust="spacingAndGlyphs">O. D. (a. u.)</text>
</svg>
</body></html>
